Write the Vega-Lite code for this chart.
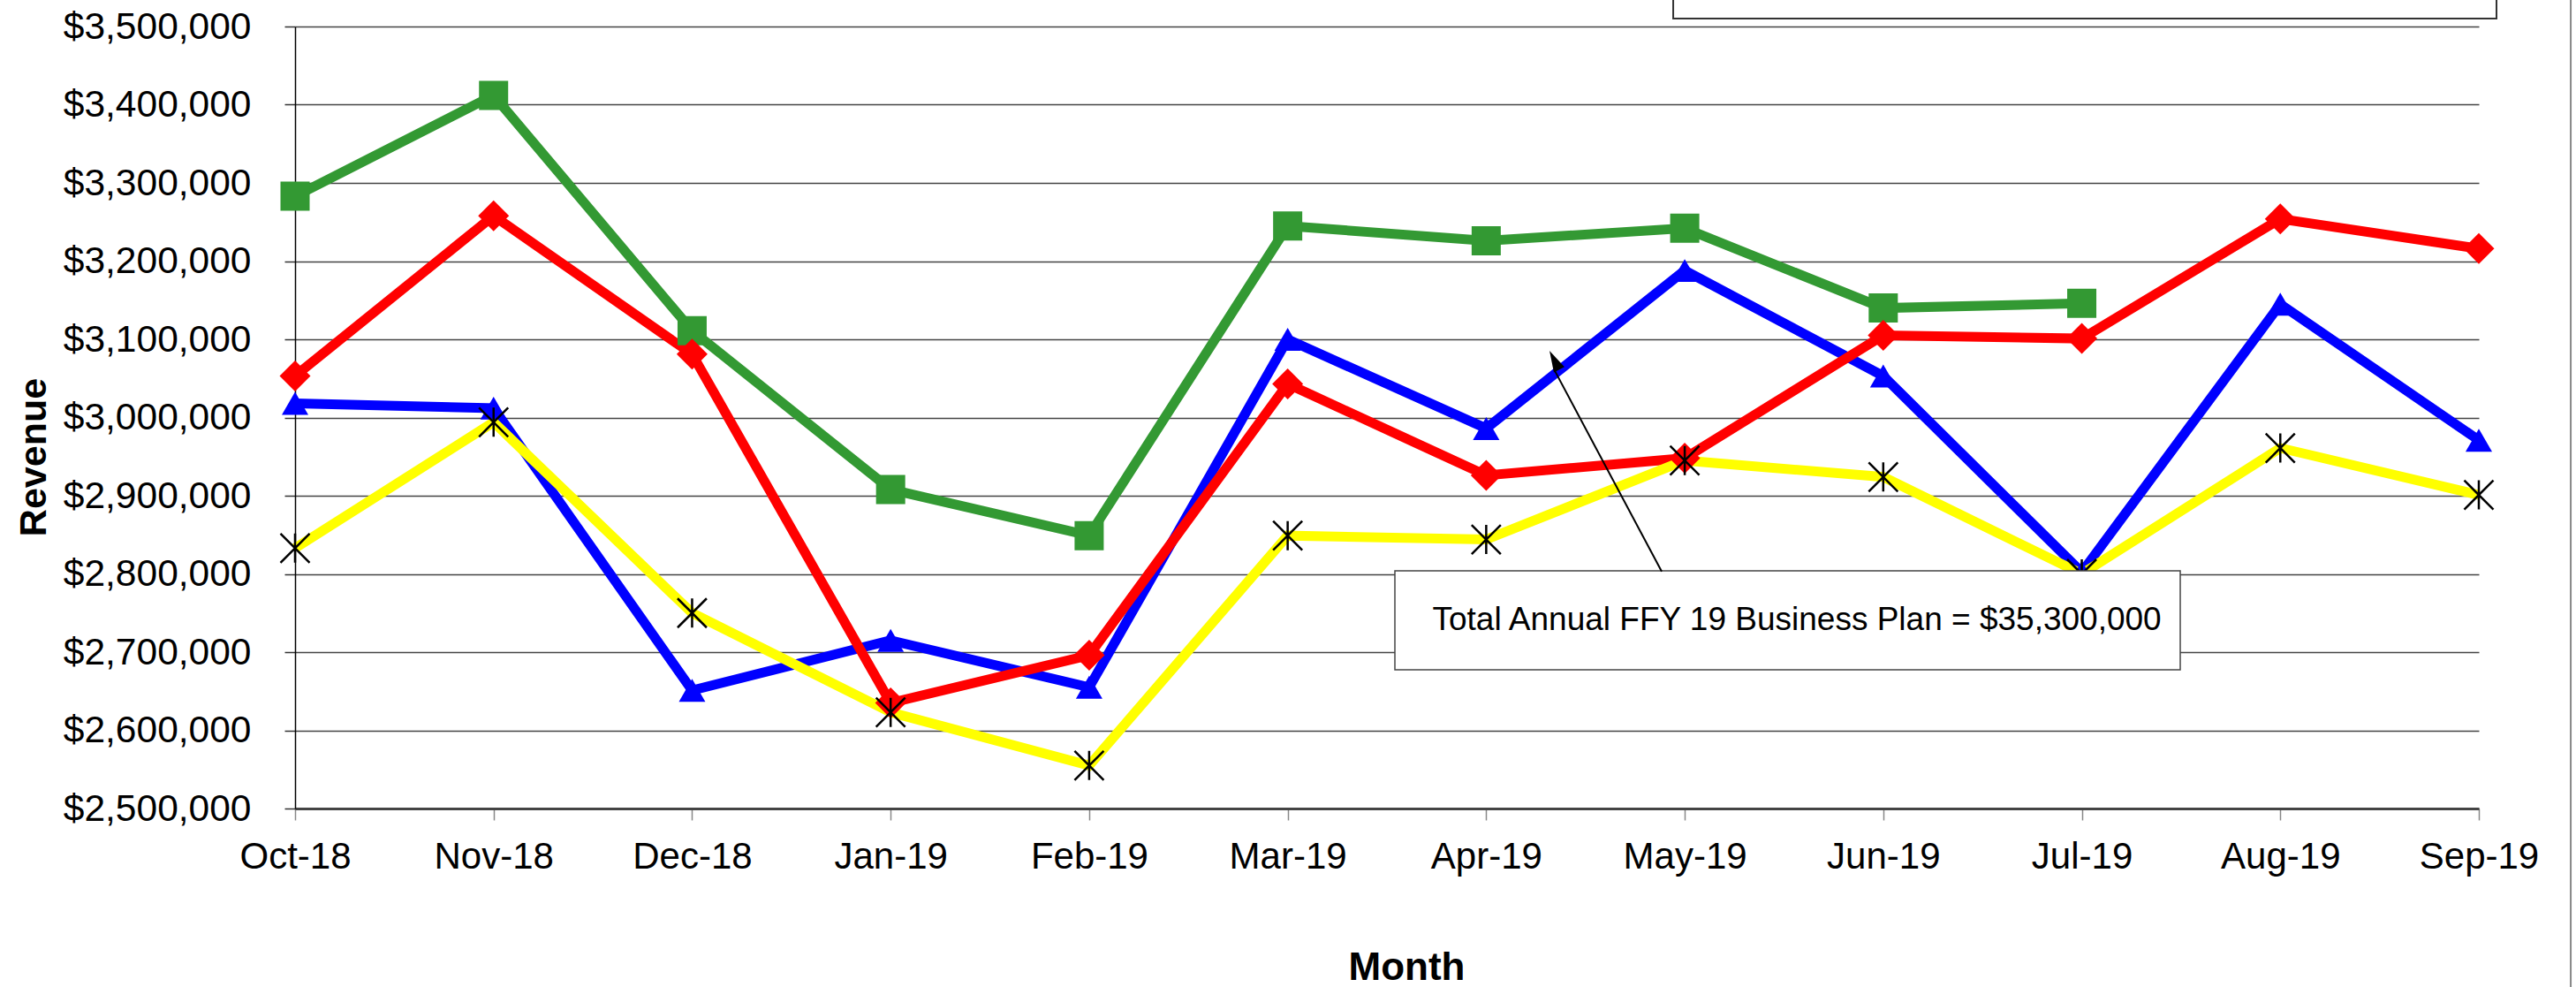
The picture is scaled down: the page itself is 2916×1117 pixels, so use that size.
{
  "$schema": "https://vega.github.io/schema/vega-lite/v6.json",
  "width": 2472,
  "height": 885,
  "autosize": {"type": "none"},
  "padding": {"left": 334, "top": 30, "right": 110, "bottom": 202},
  "background": "white",
  "config": {"view": {"stroke": null}, "font": "Liberation Sans"},
  "datasets": {
    "revenue": [
      {"month": "Oct-18", "series": "FFY 17 Actual", "revenue": 3018000},
      {"month": "Nov-18", "series": "FFY 17 Actual", "revenue": 3012000},
      {"month": "Dec-18", "series": "FFY 17 Actual", "revenue": 2651000},
      {"month": "Jan-19", "series": "FFY 17 Actual", "revenue": 2715000},
      {"month": "Feb-19", "series": "FFY 17 Actual", "revenue": 2655000},
      {"month": "Mar-19", "series": "FFY 17 Actual", "revenue": 3100000},
      {"month": "Apr-19", "series": "FFY 17 Actual", "revenue": 2986000},
      {"month": "May-19", "series": "FFY 17 Actual", "revenue": 3188000},
      {"month": "Jun-19", "series": "FFY 17 Actual", "revenue": 3053000},
      {"month": "Jul-19", "series": "FFY 17 Actual", "revenue": 2802000},
      {"month": "Aug-19", "series": "FFY 17 Actual", "revenue": 3145000},
      {"month": "Sep-19", "series": "FFY 17 Actual", "revenue": 2971000},
      {"month": "Oct-18", "series": "FFY 19 Actual", "revenue": 3283000},
      {"month": "Nov-18", "series": "FFY 19 Actual", "revenue": 3412000},
      {"month": "Dec-18", "series": "FFY 19 Actual", "revenue": 3111000},
      {"month": "Jan-19", "series": "FFY 19 Actual", "revenue": 2908000},
      {"month": "Feb-19", "series": "FFY 19 Actual", "revenue": 2849000},
      {"month": "Mar-19", "series": "FFY 19 Actual", "revenue": 3245000},
      {"month": "Apr-19", "series": "FFY 19 Actual", "revenue": 3226000},
      {"month": "May-19", "series": "FFY 19 Actual", "revenue": 3242000},
      {"month": "Jun-19", "series": "FFY 19 Actual", "revenue": 3140000},
      {"month": "Jul-19", "series": "FFY 19 Actual", "revenue": 3146000},
      {"month": "Oct-18", "series": "FFY 18 Actual", "revenue": 3053000},
      {"month": "Nov-18", "series": "FFY 18 Actual", "revenue": 3258000},
      {"month": "Dec-18", "series": "FFY 18 Actual", "revenue": 3081000},
      {"month": "Jan-19", "series": "FFY 18 Actual", "revenue": 2635000},
      {"month": "Feb-19", "series": "FFY 18 Actual", "revenue": 2696000},
      {"month": "Mar-19", "series": "FFY 18 Actual", "revenue": 3043000},
      {"month": "Apr-19", "series": "FFY 18 Actual", "revenue": 2926000},
      {"month": "May-19", "series": "FFY 18 Actual", "revenue": 2948000},
      {"month": "Jun-19", "series": "FFY 18 Actual", "revenue": 3105000},
      {"month": "Jul-19", "series": "FFY 18 Actual", "revenue": 3101000},
      {"month": "Aug-19", "series": "FFY 18 Actual", "revenue": 3254000},
      {"month": "Sep-19", "series": "FFY 18 Actual", "revenue": 3216000},
      {"month": "Oct-18", "series": "FFY 19 Business Plan", "revenue": 2833000},
      {"month": "Nov-18", "series": "FFY 19 Business Plan", "revenue": 2994000},
      {"month": "Dec-18", "series": "FFY 19 Business Plan", "revenue": 2750000},
      {"month": "Jan-19", "series": "FFY 19 Business Plan", "revenue": 2623000},
      {"month": "Feb-19", "series": "FFY 19 Business Plan", "revenue": 2555000},
      {"month": "Mar-19", "series": "FFY 19 Business Plan", "revenue": 2849000},
      {"month": "Apr-19", "series": "FFY 19 Business Plan", "revenue": 2844000},
      {"month": "May-19", "series": "FFY 19 Business Plan", "revenue": 2945000},
      {"month": "Jun-19", "series": "FFY 19 Business Plan", "revenue": 2924000},
      {"month": "Jul-19", "series": "FFY 19 Business Plan", "revenue": 2800000},
      {"month": "Aug-19", "series": "FFY 19 Business Plan", "revenue": 2961000},
      {"month": "Sep-19", "series": "FFY 19 Business Plan", "revenue": 2901000}
    ]
  },
  "layer": [
    {
      "data": {"name": "revenue"},
      "encoding": {
        "x": {
          "field": "month",
          "type": "ordinal",
          "sort": ["Oct-18", "Nov-18", "Dec-18", "Jan-19", "Feb-19", "Mar-19", "Apr-19", "May-19", "Jun-19", "Jul-19", "Aug-19", "Sep-19"],
          "scale": {"type": "point", "padding": 0},
          "title": "Month",
          "axis": {
            "labelAngle": 0,
            "labelFontSize": 42,
            "labelColor": "black",
            "labelFont": "Liberation Sans",
            "labelPadding": 21,
            "labelLimit": 0,
            "tickSize": 13,
            "tickColor": "#888888",
            "tickWidth": 1.5,
            "domainColor": "#444444",
            "domainWidth": 3,
            "grid": false,
            "titleFont": "Liberation Sans",
            "titleFontSize": 44,
            "titleFontWeight": "bold",
            "titleColor": "black",
            "titlePadding": 83,
            "titleX": 1258
          }
        },
        "y": {
          "field": "revenue",
          "type": "quantitative",
          "scale": {"domain": [2500000, 3500000], "nice": false, "zero": false},
          "title": "Revenue",
          "axis": {
            "values": [2500000, 2600000, 2700000, 2800000, 2900000, 3000000, 3100000, 3200000, 3300000, 3400000, 3500000],
            "format": "$,.0f",
            "labelFontSize": 42.5,
            "labelColor": "black",
            "labelFont": "Liberation Sans",
            "labelPadding": 38,
            "labelLimit": 0,
            "tickSize": 12,
            "tickColor": "#333333",
            "tickWidth": 1.5,
            "domainColor": "black",
            "domainWidth": 1.5,
            "grid": true,
            "gridColor": "#444444",
            "gridWidth": 1.5,
            "titleFont": "Liberation Sans",
            "titleFontSize": 43,
            "titleFontWeight": "bold",
            "titleColor": "black",
            "titleAngle": -90,
            "titleAlign": "center",
            "titleBaseline": "middle",
            "titleX": -296,
            "titleY": 487
          }
        }
      },
      "layer": [
        {
          "mark": {"type": "line", "strokeWidth": 11},
          "encoding": {
            "color": {
              "field": "series",
              "type": "nominal",
              "scale": {
                "domain": ["FFY 17 Actual", "FFY 19 Actual", "FFY 18 Actual", "FFY 19 Business Plan"],
                "range": ["#0000FF", "#339933", "#FF0000", "#FFFF00"]
              },
              "legend": null
            }
          }
        },
        {
          "transform": [{"filter": "datum.series === 'FFY 17 Actual'"}],
          "mark": {"type": "point", "shape": "triangle-up", "filled": true, "size": 900, "color": "#0000FF", "opacity": 1}
        },
        {
          "transform": [{"filter": "datum.series === 'FFY 19 Actual'"}],
          "mark": {"type": "point", "shape": "square", "filled": true, "size": 1089, "color": "#339933", "opacity": 1}
        },
        {
          "transform": [{"filter": "datum.series === 'FFY 18 Actual'"}],
          "mark": {"type": "point", "shape": "diamond", "filled": true, "size": 1225, "color": "#FF0000", "opacity": 1}
        },
        {
          "transform": [{"filter": "datum.series === 'FFY 19 Business Plan'"}],
          "mark": {"type": "point", "shape": "M-1,-1L1,1M-1,1L1,-1M0,-1L0,1", "filled": false, "size": 1089, "stroke": "black", "strokeWidth": 2.5, "opacity": 1}
        }
      ]
    },
    {
      "data": {"values": [{}]},
      "layer": [
        {
          "mark": {"type": "rect", "fill": "white", "stroke": "#333333", "strokeWidth": 2},
          "encoding": {
            "x": {"datum": 6.942, "type": "quantitative", "scale": {"domain": [0, 11], "nice": false, "zero": false}, "axis": null},
            "x2": {"datum": 11.089},
            "y": {"datum": 3510169, "type": "quantitative", "scale": {"domain": [2500000, 3500000], "nice": false, "zero": false}},
            "y2": {"datum": 3600000}
          }
        },
        {
          "mark": {"type": "rule", "stroke": "#888888", "strokeWidth": 2},
          "encoding": {
            "x": {"datum": 11.463, "type": "quantitative", "scale": {"domain": [0, 11], "nice": false, "zero": false}, "axis": null},
            "y": {"datum": 3600000, "type": "quantitative", "scale": {"domain": [2500000, 3500000], "nice": false, "zero": false}},
            "y2": {"datum": 2200000}
          }
        },
        {
          "mark": {"type": "rect", "fill": "white", "stroke": "#444444", "strokeWidth": 1.5},
          "encoding": {
            "x": {"datum": 5.540, "type": "quantitative", "scale": {"domain": [0, 11], "nice": false, "zero": false}, "axis": null},
            "x2": {"datum": 9.496},
            "y": {"datum": 2803955, "type": "quantitative", "scale": {"domain": [2500000, 3500000], "nice": false, "zero": false}},
            "y2": {"datum": 2677401}
          }
        },
        {
          "mark": {"type": "text", "text": "Total Annual FFY 19 Business Plan = $35,300,000", "font": "Liberation Sans", "fontSize": 37, "color": "black", "align": "center", "baseline": "middle"},
          "encoding": {
            "x": {"datum": 7.565, "type": "quantitative", "scale": {"domain": [0, 11], "nice": false, "zero": false}, "axis": null},
            "y": {"datum": 2740678, "type": "quantitative", "scale": {"domain": [2500000, 3500000], "nice": false, "zero": false}}
          }
        },
        {
          "mark": {"type": "rule", "stroke": "black", "strokeWidth": 2},
          "encoding": {
            "x": {"datum": 6.884, "type": "quantitative", "scale": {"domain": [0, 11], "nice": false, "zero": false}, "axis": null},
            "x2": {"datum": 6.345},
            "y": {"datum": 2803000, "type": "quantitative", "scale": {"domain": [2500000, 3500000], "nice": false, "zero": false}},
            "y2": {"datum": 3060000}
          }
        },
        {
          "mark": {"type": "point", "shape": "M0,0L0.28,1L-0.28,1Z", "filled": true, "color": "black", "size": 2304, "angle": 333, "opacity": 1},
          "encoding": {
            "x": {"datum": 6.319, "type": "quantitative", "scale": {"domain": [0, 11], "nice": false, "zero": false}, "axis": null},
            "y": {"datum": 3085311, "type": "quantitative", "scale": {"domain": [2500000, 3500000], "nice": false, "zero": false}}
          }
        }
      ]
    }
  ],
  "resolve": {"scale": {"x": "independent"}}
}
